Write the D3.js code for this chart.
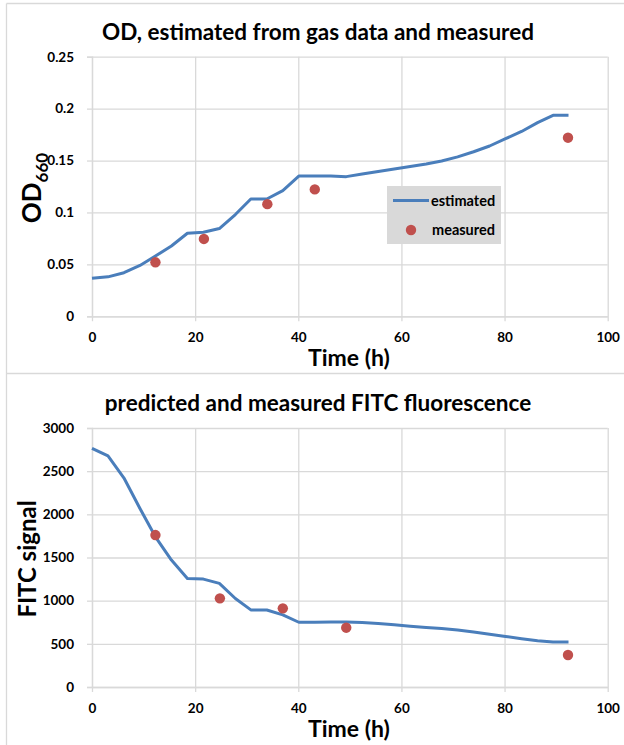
<!DOCTYPE html>
<html>
<head>
<meta charset="utf-8">
<script src="https://cdn.jsdelivr.net/npm/d3@7/dist/d3.min.js"></script>
<style>
  html, body { margin: 0; padding: 0; background: #fff; }
  svg { display: block; font-family: Lato, "Open Sans", sans-serif; }
</style>
</head>
<body>
<svg id="chart" width="624" height="745"></svg>
<script>
// Sampling times (h) of the gas-based estimates
const timeEst = [0, 3.1, 6.2, 9.3, 12.3, 15.4, 18.5, 21.6, 24.7, 27.8, 30.8, 33.9, 37.0, 40.1, 43.2, 46.3,
                 49.3, 52.4, 55.5, 58.6, 61.7, 64.8, 67.8, 70.9, 74.0, 77.1, 80.2, 83.3, 86.4, 89.4, 92.4];
// OD660 estimated from gas data
const odEstimated = [0.0366, 0.038, 0.042, 0.049, 0.058, 0.0677, 0.080, 0.081, 0.0845, 0.098, 0.113, 0.113,
                     0.121, 0.135, 0.135, 0.135, 0.1345, 0.137, 0.1395, 0.1418, 0.1442, 0.1467, 0.1495,
                     0.1535, 0.1585, 0.164, 0.171, 0.178, 0.1865, 0.1935, 0.1935];
// OD660 measured offline
const odTimes = [12.3, 21.7, 34.0, 43.2, 92.3];
const odMeasured = [0.052, 0.0745, 0.108, 0.1222, 0.172];

// FITC signal predicted on the same time grid
const fitcPredicted = [2765, 2676, 2420, 2068, 1740, 1470, 1257, 1250, 1200, 1025, 893, 892, 836, 750, 750,
                       752, 753, 746, 735, 720, 705, 690, 678, 660, 637, 612, 585, 560, 537, 521, 521];
// FITC signal measured
const fitcTimes = [12.3, 24.8, 37.0, 49.3, 92.3];
const fitcMeasured = [1760, 1027, 911, 687, 371];

// Axis ticks
const xTicks = [0, 20, 40, 60, 80, 100];
const odTicks = [0, 0.05, 0.1, 0.15, 0.2, 0.25];
const fitcTicks = [0, 500, 1000, 1500, 2000, 2500, 3000];

const LINE_COLOR = "#4a7ebb";
const DOT_COLOR = "#c0504d";
const GRID_COLOR = "#d9d9d9";

const svg = d3.select("#chart");
svg.append("rect").attr("width", 624).attr("height", 745).attr("fill", "#fff");

// Panel frames
const frame = svg.append("g").attr("stroke", GRID_COLOR).attr("stroke-width", 1.3).attr("fill", "none");
frame.append("line").attr("x1", 6.5).attr("x2", 6.5).attr("y1", 3.5).attr("y2", 745);
frame.append("line").attr("x1", 6.5).attr("x2", 624).attr("y1", 3.5).attr("y2", 3.5);
frame.append("line").attr("x1", 6.5).attr("x2", 624).attr("y1", 373.5).attr("y2", 373.5);

function drawPanel(opts) {
  const { top, bottom, yDomain, yTicks, yFormat, title, titleY, lineY, dotX, dotY } = opts;
  const left = 92, right = 607.7;
  const x = d3.scaleLinear().domain([0, 100]).range([left, right]);
  const y = d3.scaleLinear().domain(yDomain).range([bottom, top]);
  const g = svg.append("g");

  // Horizontal gridlines
  g.append("g")
    .attr("transform", `translate(${left},0)`)
    .call(d3.axisLeft(y).tickValues(yTicks).tickSize(-(right - left)).tickFormat(""))
    .call(a => a.select(".domain").remove())
    .call(a => a.selectAll("line").attr("stroke", GRID_COLOR).attr("stroke-width", 1.3));
  // Vertical gridlines, extending a little below the axis as tick marks
  g.append("g")
    .attr("transform", `translate(0,${bottom + 5})`)
    .call(d3.axisBottom(x).tickValues(xTicks).tickSize(-(bottom - top + 5)).tickFormat(""))
    .call(a => a.select(".domain").remove())
    .call(a => a.selectAll("line").attr("stroke", GRID_COLOR).attr("stroke-width", 1.3));
  // Axis lines with outer ticks
  g.append("g")
    .attr("transform", `translate(0,${bottom})`)
    .call(d3.axisBottom(x).tickValues([]).tickSizeOuter(0))
    .call(a => a.select(".domain").attr("stroke", GRID_COLOR).attr("stroke-width", 1.3));
  g.append("g")
    .attr("transform", `translate(${left},0)`)
    .call(d3.axisLeft(y).tickValues(yTicks).tickSize(5).tickFormat(""))
    .call(a => a.select(".domain").attr("stroke", GRID_COLOR).attr("stroke-width", 1.3))
    .call(a => a.selectAll("line").attr("stroke", GRID_COLOR).attr("stroke-width", 1.3));

  // Tick labels
  g.append("g")
    .attr("transform", `translate(${left - 15},0)`)
    .call(d3.axisLeft(y).tickValues(yTicks).tickSize(0).tickFormat(yFormat))
    .call(a => a.select(".domain").remove())
    .call(a => a.selectAll("text")
      .attr("font-family", "Lato, sans-serif").attr("font-weight", "bold")
      .attr("font-size", 13.5).attr("fill", "#000"));
  g.append("g")
    .attr("transform", `translate(0,${bottom + 13})`)
    .call(d3.axisBottom(x).tickValues(xTicks).tickSize(0).tickFormat(d3.format("d")))
    .call(a => a.select(".domain").remove())
    .call(a => a.selectAll("text")
      .attr("font-family", "Lato, sans-serif").attr("font-weight", "bold")
      .attr("font-size", 13.5).attr("fill", "#000"));

  // Title and x-axis title
  g.append("text").attr("x", 318).attr("y", titleY).attr("text-anchor", "middle")
    .attr("font-weight", "bold").attr("font-size", 22.5).text(title);
  g.append("text").attr("x", 349).attr("y", bottom + 50).attr("text-anchor", "middle")
    .attr("font-weight", "bold").attr("font-size", 23).text("Time (h)");

  // Series line
  const line = d3.line().x((d, i) => x(timeEst[i])).y(d => y(d));
  g.append("path").datum(lineY).attr("d", line)
    .attr("fill", "none").attr("stroke", LINE_COLOR).attr("stroke-width", 3)
    .attr("stroke-linejoin", "round");

  // Measured points
  g.selectAll("circle.m").data(dotY).join("circle").attr("class", "m")
    .attr("cx", (d, i) => x(dotX[i])).attr("cy", d => y(d)).attr("r", 5.2)
    .attr("fill", DOT_COLOR);

  return { g, x, y };
}

// Top panel: optical density
const p1 = drawPanel({
  top: 56.7, bottom: 316.3, yDomain: [0, 0.25], yTicks: odTicks,
  yFormat: d => d === 0 ? "0" : String(+d.toFixed(2)),
  title: "OD, estimated from gas data and measured", titleY: 40,
  lineY: odEstimated, dotX: odTimes, dotY: odMeasured
});
// y-axis title with subscript
const odLabel = svg.append("text")
  .attr("transform", "translate(41,188) rotate(-90)")
  .attr("text-anchor", "middle").attr("font-weight", "bold").attr("font-size", 26);
odLabel.append("tspan").text("OD");
odLabel.append("tspan").attr("font-size", 17).attr("dy", 7).text("660");

// Legend
const leg = svg.append("g");
leg.append("rect").attr("x", 387).attr("y", 186).attr("width", 114).attr("height", 58).attr("fill", "#d9d9d9");
leg.append("line").attr("x1", 393).attr("x2", 429).attr("y1", 200.5).attr("y2", 200.5)
  .attr("stroke", LINE_COLOR).attr("stroke-width", 3);
leg.append("text").attr("x", 431).attr("y", 205.5).attr("font-weight", "bold").attr("font-size", 14.5).text("estimated");
leg.append("circle").attr("cx", 411).attr("cy", 230).attr("r", 5.2).attr("fill", DOT_COLOR);
leg.append("text").attr("x", 432).attr("y", 235).attr("font-weight", "bold").attr("font-size", 14.5).text("measured");

// Bottom panel: FITC fluorescence
const p2 = drawPanel({
  top: 428, bottom: 687, yDomain: [0, 3000], yTicks: fitcTicks,
  yFormat: d3.format("d"),
  title: "predicted and measured FITC fluorescence", titleY: 411,
  lineY: fitcPredicted, dotX: fitcTimes, dotY: fitcMeasured
});
svg.append("text")
  .attr("transform", "translate(36,559) rotate(-90)")
  .attr("text-anchor", "middle").attr("font-weight", "bold").attr("font-size", 24)
  .text("FITC signal");
</script>
</body>
</html>
